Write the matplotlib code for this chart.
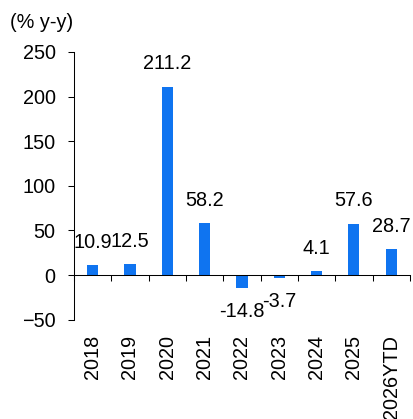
import matplotlib.pyplot as plt

plt.rcParams['font.family'] = ['Liberation Sans', 'DejaVu Sans']

years = ["2018", "2019", "2020", "2021", "2022", "2023", "2024", "2025", "2026YTD"]
growth = [10.9, 12.5, 211.2, 58.2, -14.8, -3.7, 4.1, 57.6, 28.7]
bar_color = "#0F74F0"
fs = 14.3

fig = plt.figure(figsize=(4.14, 4.19), dpi=100)
ax = fig.add_axes([0.1787, 0.237, 0.8113, 0.639])

x = list(range(len(years)))
ax.bar(x, growth, width=0.3, color=bar_color)

# value labels above/below each bar
for xi, v in zip(x, growth):
    off = 16.5 if v >= 0 else -16.5
    ax.annotate(f"{v:.1f}", (xi, v), xytext=(0, off), textcoords="offset points",
                ha="center", va="center", fontsize=fs)

ax.set_xlim(-0.5, len(years) - 0.5)
ax.set_ylim(-50, 250)
ax.set_yticks([-50, 0, 50, 100, 150, 200, 250])
ax.tick_params(axis="y", direction="out", length=4.3, width=0.75, pad=9, labelsize=fs)

# zero line acts as the category axis, ticks between categories
ax.spines["top"].set_visible(False)
ax.spines["right"].set_visible(False)
ax.spines["bottom"].set_position(("data", 0))
ax.spines["bottom"].set_linewidth(0.75)
ax.spines["left"].set_linewidth(0.75)
ax.set_xticks([i - 0.5 for i in range(len(years) + 1)])
ax.set_xticklabels([])
ax.tick_params(axis="x", direction="out", length=4.3, width=0.75)

# category names sit under the bottom of the plot area
sec = ax.secondary_xaxis(0)
sec.set_xticks(x)
sec.set_xticklabels(years, rotation=90, fontsize=fs)
sec.tick_params(length=0, pad=11)
sec.spines["bottom"].set_visible(False)

fig.text(10 / 414, 1 - 22 / 419, "(% y-y)", fontsize=fs, va="center", ha="left")

fig.savefig("out.png", dpi=100)
